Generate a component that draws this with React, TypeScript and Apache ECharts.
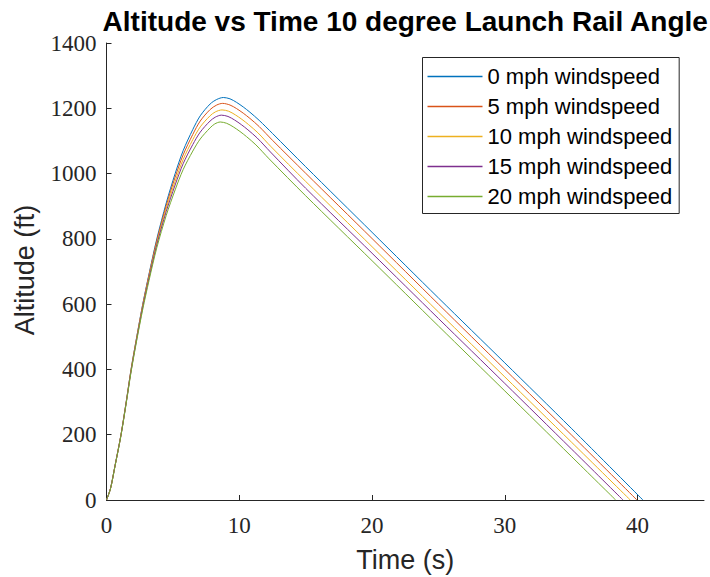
import React, { useEffect, useRef } from "react";
import * as echarts from "echarts";

const TITLE = "Altitude vs Time 10 degree Launch Rail Angle";
const X_NAME = "Time (s)";
const Y_NAME = "Altitude (ft)";
const X_TICKS = [0, 10, 20, 30, 40];
const LEGEND_NAMES = [
  "0 mph windspeed",
  "5 mph windspeed",
  "10 mph windspeed",
  "15 mph windspeed",
  "20 mph windspeed",
];
const COLORS = ["#0072BD", "#D95319", "#EDB120", "#7E2F8E", "#77AC30"];

// [time (s), altitude (ft)]
const wind0: [number, number][] = [
  [0, 0], [0.3, 35], [0.64, 105], [1.09, 200], [1.5, 305], [1.85, 400], [2.3, 505],
  [2.73, 600], [3.2, 692], [3.79, 800], [4.5, 910], [5.17, 1000], [5.77, 1070],
  [6.5, 1135], [7.06, 1177], [7.8, 1213], [8.3, 1227], [8.8, 1233], [9.3, 1229],
  [9.8, 1218], [10.3, 1204], [10.8, 1188], [11.5, 1163], [12.5, 1123], [15, 1021],
  [20, 820], [25, 619], [30, 420], [35, 220], [40.4, 0],
];
const wind5: [number, number][] = [
  [0, 0], [0.3, 35], [0.64, 105], [1.09, 200], [1.5, 305], [1.85, 400], [2.3, 504],
  [2.73, 598], [3.2, 689], [3.79, 795], [4.5, 902], [5.17, 989], [5.77, 1057],
  [6.5, 1120], [7.06, 1161], [7.8, 1196], [8.3, 1210], [8.75, 1215], [9.3, 1210],
  [9.8, 1199], [10.3, 1185], [10.8, 1169], [11.5, 1144], [12.5, 1102], [15, 1001],
  [20, 801], [25, 600], [30, 400], [35, 200], [39.95, 0],
];
const wind10: [number, number][] = [
  [0, 0], [0.3, 35], [0.64, 104], [1.09, 199], [1.5, 303], [1.85, 397], [2.3, 501],
  [2.73, 594], [3.2, 684], [3.79, 788], [4.5, 893], [5.17, 976], [5.77, 1043],
  [6.5, 1104], [7.06, 1143], [7.8, 1177], [8.2, 1189], [8.7, 1195], [9.2, 1191],
  [9.7, 1180], [10.2, 1166], [10.7, 1150], [11.4, 1125], [12.4, 1082], [15, 976],
  [20, 776], [25, 576], [30, 377], [35, 178], [39.45, 0],
];
const wind15: [number, number][] = [
  [0, 0], [0.3, 35], [0.64, 104], [1.09, 198], [1.5, 302], [1.85, 395], [2.3, 498],
  [2.73, 590], [3.2, 679], [3.79, 782], [4.5, 884], [5.17, 965], [5.77, 1030],
  [6.5, 1089], [7.06, 1127], [7.8, 1161], [8.2, 1173], [8.65, 1179], [9.15, 1175],
  [9.65, 1164], [10.15, 1150], [10.65, 1134], [11.35, 1109], [12.35, 1066], [15, 955],
  [20, 756], [25, 556], [30, 357], [35, 157], [38.9, 0],
];
const wind20: [number, number][] = [
  [0, 0], [0.3, 34], [0.64, 103], [1.09, 197], [1.5, 300], [1.85, 392], [2.3, 494],
  [2.73, 584], [3.2, 672], [3.79, 773], [4.5, 872], [5.17, 950], [5.77, 1012],
  [6.5, 1069], [7.06, 1106], [7.8, 1140], [8.15, 1152], [8.57, 1158], [9.05, 1154],
  [9.55, 1143], [10.05, 1129], [10.55, 1113], [11.25, 1088], [12.25, 1045], [15, 932],
  [20, 733], [25, 533], [30, 334], [35, 134], [38.35, 0],
];
const SERIES_DATA = [wind0, wind5, wind10, wind15, wind20];

const AXIS_COLOR = "#262626";

export default function App() {
  const ref = useRef<HTMLDivElement>(null);
  useEffect(() => {
    if (!ref.current) return;
    const chart = echarts.init(ref.current, null, { renderer: "svg" });
    const gridLeft = 106.5;
    const gridRight = 6;
    const plotCenter = gridLeft + (710 - gridLeft - gridRight) / 2;
    chart.setOption({
      animation: false,
      backgroundColor: "#ffffff",
      graphic: [
        {
          type: "text",
          x: plotCenter,
          y: 21,
          style: {
            text: TITLE,
            fontFamily: "Liberation Sans",
            fontWeight: "bold",
            fontSize: 28,
            fill: "#000000",
            textAlign: "center",
            textVerticalAlign: "middle",
          },
        },
        {
          type: "text",
          x: plotCenter,
          y: 560,
          style: {
            text: X_NAME,
            fontFamily: "Liberation Sans",
            fontSize: 27,
            fill: AXIS_COLOR,
            textAlign: "center",
            textVerticalAlign: "middle",
          },
        },
        {
          type: "text",
          x: 25,
          y: 270,
          rotation: Math.PI / 2,
          style: {
            text: Y_NAME,
            fontFamily: "Liberation Sans",
            fontSize: 27,
            fill: AXIS_COLOR,
            textAlign: "center",
            textVerticalAlign: "middle",
          },
        },
      ],
      grid: {
        left: gridLeft,
        right: gridRight,
        top: 43,
        bottom: 77,
        containLabel: false,
        outerBoundsMode: "none",
      },
      legend: {
        orient: "vertical",
        left: 422.5,
        top: 57.5,
        padding: [4, 7, 2, 5],
        itemWidth: 55,
        itemHeight: 1.5,
        itemGap: 0,
        icon: "rect",
        borderColor: AXIS_COLOR,
        borderWidth: 1,
        backgroundColor: "#ffffff",
        data: LEGEND_NAMES,
        textStyle: {
          fontFamily: "Liberation Sans",
          fontSize: 22,
          lineHeight: 30,
          color: "#000000",
        },
      },
      xAxis: {
        type: "value",
        min: 0,
        max: 45,
        axisLine: { show: true, onZero: false, lineStyle: { color: AXIS_COLOR, width: 1 } },
        axisTick: { show: true, inside: true, length: 5, customValues: X_TICKS, lineStyle: { color: AXIS_COLOR } },
        axisLabel: {
          customValues: X_TICKS,
          formatter: (v: number) => String(v),
          fontFamily: "Liberation Serif",
          fontSize: 23,
          color: AXIS_COLOR,
          margin: 14,
        },
        splitLine: { show: false },
      },
      yAxis: {
        type: "value",
        min: 0,
        max: 1400,
        interval: 200,
        axisLine: { show: true, onZero: false, lineStyle: { color: AXIS_COLOR, width: 1 } },
        axisTick: { show: true, inside: true, length: 5, lineStyle: { color: AXIS_COLOR } },
        axisLabel: {
          formatter: (v: number) => String(v),
          fontFamily: "Liberation Serif",
          fontSize: 23,
          color: AXIS_COLOR,
          margin: 10,
        },
        splitLine: { show: false },
      },
      series: SERIES_DATA.map((d, i) => ({
        type: "line",
        name: LEGEND_NAMES[i],
        data: d,
        showSymbol: false,
        symbol: "none",
        smooth: 0.3,
        color: COLORS[i],
        lineStyle: { width: 1, color: COLORS[i] },
      })),
    });
    return () => chart.dispose();
  }, []);
  return (
    <div
      ref={ref}
      style={{ position: "absolute", left: 0, top: 0, width: 710, height: 577 }}
    />
  );
}
